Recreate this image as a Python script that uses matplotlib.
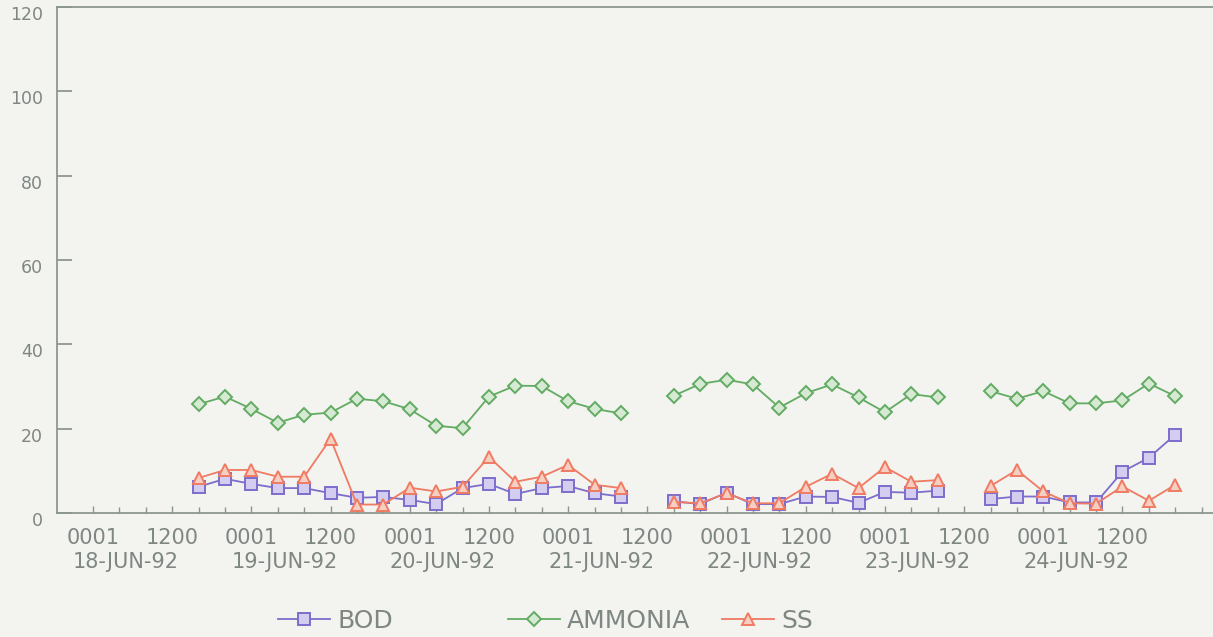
import matplotlib.pyplot as plt
import matplotlib.transforms as mtransforms

# sample times, hours after 0001 on 18-JUN-92 (three runs with gaps)
hours_1 = [16, 20, 24, 28, 32, 36, 40, 44, 48, 52, 56, 60, 64, 68, 72, 76, 80]
hours_2 = [88, 92, 96, 100, 104, 108, 112, 116, 120, 124, 128]
hours_3 = [136, 140, 144, 148, 152, 156, 160, 164]

bod_1 = [6.2, 8.1, 6.9, 5.9, 5.9, 4.7, 3.6, 3.8, 3.1, 2.1, 5.9, 6.9, 4.5, 5.9, 6.4, 4.7, 3.9]
bod_2 = [2.8, 2.1, 4.8, 2.1, 2.1, 3.9, 3.8, 2.4, 5.0, 4.8, 5.3]
bod_3 = [3.3, 3.9, 3.9, 2.5, 2.5, 9.8, 13.1, 18.6]

ammonia_1 = [25.8, 27.6, 24.7, 21.4, 23.3, 23.8, 27.1, 26.5, 24.6, 20.7, 20.1, 27.6, 30.2, 30.1, 26.5, 24.7, 23.6]
ammonia_2 = [27.8, 30.6, 31.6, 30.5, 25.0, 28.4, 30.5, 27.4, 23.9, 28.2, 27.4]
ammonia_3 = [28.9, 27.1, 28.9, 26.0, 26.0, 26.7, 30.7, 27.7]

ss_1 = [8.3, 10.2, 10.2, 8.6, 8.6, 17.6, 2.0, 2.0, 6.0, 5.1, 6.2, 13.3, 7.4, 8.6, 11.4, 6.7, 5.9]
ss_2 = [2.6, 2.3, 4.7, 2.3, 2.3, 6.2, 9.3, 5.9, 10.9, 7.4, 7.8]
ss_3 = [6.4, 10.2, 5.1, 2.3, 2.2, 6.3, 2.9, 6.7]

major_hours = [0, 12, 24, 36, 48, 60, 72, 84, 96, 108, 120, 132, 144, 156]
major_labels = ['0001', '1200'] * 7
dates = ['18-JUN-92', '19-JUN-92', '20-JUN-92', '21-JUN-92',
         '22-JUN-92', '23-JUN-92', '24-JUN-92']

bg = '#f3f3f0'
grey = '#7f8783'
axis_col = '#8c9691'

plt.rcParams['font.family'] = ['DejaVu Sans']

fig = plt.figure(figsize=(12.13, 6.37), dpi=100, facecolor=bg)
ax = fig.add_axes([0.047, 0.1947, 0.96, 0.7943], facecolor=bg)

styles = {
    'BOD': dict(color='#7d6dcc', marker='s', ms=8.5, mfc='#d4cdef'),
    'AMMONIA': dict(color='#62ab62', marker='D', ms=7, mfc='#d6e9d2'),
    'SS': dict(color='#f07a62', marker='^', ms=9, mfc='#f7cfc2'),
}
series = {
    'BOD': [(hours_1, bod_1), (hours_2, bod_2), (hours_3, bod_3)],
    'AMMONIA': [(hours_1, ammonia_1), (hours_2, ammonia_2), (hours_3, ammonia_3)],
    'SS': [(hours_1, ss_1), (hours_2, ss_2), (hours_3, ss_3)],
}

handles = {}
for name, segs in series.items():
    st = styles[name]
    for i, (h, v) in enumerate(segs):
        ln, = ax.plot(h, v, color=st['color'], lw=1.3, marker=st['marker'],
                      ms=st['ms'], mfc=st['mfc'], mec=st['color'], mew=1.4)
        if i == 0:
            handles[name] = ln

ax.set_xlim(-5.45, 171)
ax.set_ylim(0, 120)

# y axis
ax.set_yticks([0, 20, 40, 60, 80, 100, 120])
ax.tick_params(axis='y', direction='in', length=11, width=1.3, color=axis_col,
               labelsize=12.5, labelcolor=grey, pad=10)
offset = mtransforms.ScaledTranslation(0, -6 / 100, fig.dpi_scale_trans)
for lab in ax.get_yticklabels():
    lab.set_transform(lab.get_transform() + offset)

# x axis
ax.set_xticks(major_hours)
ax.set_xticklabels(major_labels)
ax.set_xticks(list(range(0, 169, 4)), minor=True)
ax.tick_params(axis='x', which='major', direction='in', length=5, width=1.0,
               color=axis_col, labelsize=15, labelcolor=grey, pad=11)
ax.tick_params(axis='x', which='minor', direction='in', length=4, width=1.0,
               color=axis_col)

for i, d in enumerate(dates):
    ax.text(i * 24 + 5, -0.097, d, transform=ax.get_xaxis_transform(),
            ha='center', va='center', fontsize=15, color=grey)

for side in ['left', 'bottom', 'top']:
    ax.spines[side].set_color(axis_col)
    ax.spines[side].set_linewidth(1.3)
ax.spines['right'].set_visible(False)

# legend entries spread along the bottom
legend_x = {'BOD': 278 / 1213, 'AMMONIA': 508 / 1213, 'SS': 722 / 1213}
for name, x in legend_x.items():
    fig.legend([handles[name]], [name], loc='center left',
               bbox_to_anchor=(x, 0.025), frameon=False, fontsize=18,
               labelcolor=grey, handlelength=2.07, handletextpad=0.3,
               borderpad=0, borderaxespad=0, numpoints=1)

fig.savefig('out.png', dpi=100, facecolor=bg)
